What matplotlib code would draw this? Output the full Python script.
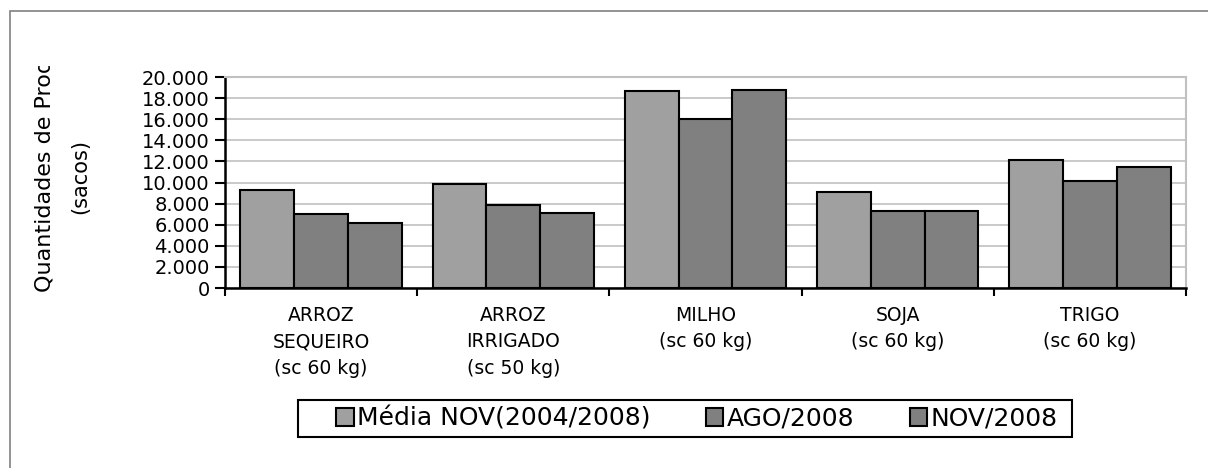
import matplotlib
matplotlib.use("Agg")
import matplotlib.pyplot as plt
from matplotlib.patches import Rectangle
from matplotlib.transforms import Bbox, TransformedBbox, IdentityTransform
import numpy as np

categories = ["ARROZ\nSEQUEIRO\n(sc 60 kg)", "ARROZ\nIRRIGADO\n(sc 50 kg)",
              "MILHO\n(sc 60 kg)", "SOJA\n(sc 60 kg)", "TRIGO\n(sc 60 kg)"]
series_names = ["Média NOV(2004/2008)", "AGO/2008", "NOV/2008"]
media_nov = [9270, 9830, 18700, 9100, 12150]
ago_2008 = [7015, 7850, 16000, 7320, 10150]
nov_2008 = [6120, 7140, 18800, 7320, 11490]
yticks = [0, 2000, 4000, 6000, 8000, 10000, 12000, 14000, 16000, 18000, 20000]
ytick_labels = ["0", "2.000", "4.000", "6.000", "8.000", "10.000", "12.000",
                "14.000", "16.000", "18.000", "20.000"]
colors = ["#A0A0A0", "#808080", "#808080"]

plt.rcParams['font.family'] = ['DejaVu Sans']

W, H = 1208, 468
fig = plt.figure(figsize=(W / 100, H / 100), dpi=100)

# outer frame
fig.patches.append(Rectangle((10 / W, -0.1), 1.2, (H - 11) / H + 0.1,
                             transform=fig.transFigure, fill=False,
                             edgecolor="#808080", linewidth=1.2))

ax = fig.add_axes([225 / W, 1 - 288 / H, (1186 - 225) / W, (288 - 77) / H])
x = np.arange(len(categories))
bw = 0.28
for i, (vals, c, name) in enumerate(zip([media_nov, ago_2008, nov_2008], colors, series_names)):
    ax.bar(x + (i - 1) * bw, vals, width=bw, color=c, edgecolor="black",
           linewidth=1.5, label=name, zorder=3)

ax.set_xlim(-0.5, len(categories) - 0.5)
ax.set_ylim(0, 20000)
ax.set_yticks(yticks)
ax.set_yticklabels(ytick_labels, fontsize=14)
ax.yaxis.grid(True, color="#C0C0C0", linewidth=1.2, zorder=0)
ax.set_xticks(np.arange(-0.5, len(categories)), minor=False)
ax.set_xticklabels([])
ax.tick_params(axis='x', which='major', direction='out', length=6, width=1.5)
ax.tick_params(axis='y', direction='out', length=7, width=1.5, pad=4)
for xi, lab in zip(x, categories):
    ax.text(xi, -1700, lab, ha='center', va='top', fontsize=13.5, linespacing=1.5)

ax.spines['left'].set_linewidth(1.8)
ax.spines['bottom'].set_linewidth(1.8)
ax.spines['top'].set_color("#C0C0C0")
ax.spines['right'].set_color("#C0C0C0")
ax.spines['top'].set_linewidth(1.5)
ax.spines['right'].set_linewidth(1.5)

# y-label (clipped like the original)
t = fig.text(45 / W, 1 - 292 / H, "Quantidades de Produção", rotation=90,
             ha='center', va='bottom', fontsize=16)
clip = TransformedBbox(Bbox([[0, 0], [W, H - 66]]), IdentityTransform())
t.set_clip_box(clip)
t.set_clip_on(True)
fig.text(80 / W, 1 - 177 / H, "(sacos)", rotation=90, ha='center', va='center', fontsize=15)

leg = fig.legend(loc='center', bbox_to_anchor=(697 / W, 1 - 418.5 / H), ncol=3,
                 fontsize=18, frameon=False,
                 handlelength=0.7, handleheight=0.7, handletextpad=0.15,
                 columnspacing=2.2, borderpad=0.2)
fig.patches.append(Rectangle((298 / W, 1 - 437 / H), (1072 - 298) / W, 37 / H,
                             transform=fig.transFigure, fill=False,
                             edgecolor="black", linewidth=1.5))

fig.savefig("out.png", dpi=100)
